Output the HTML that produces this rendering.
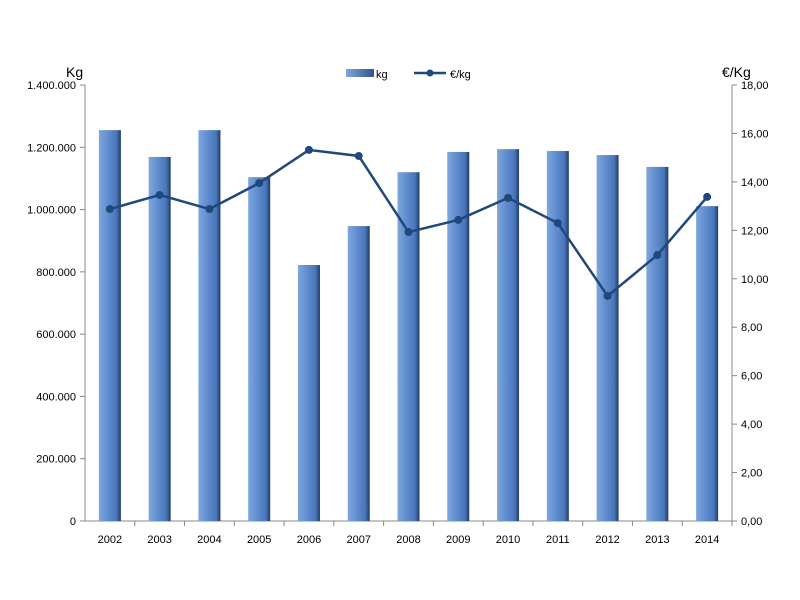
<!DOCTYPE html>
<html><head><meta charset="utf-8"><style>
body{margin:0;background:#fff;}
svg{display:block;font-family:"Liberation Sans",sans-serif;}
</style></head><body>
<svg id="chart" width="800" height="600">
<defs>
<linearGradient id="barg" x1="0" x2="1" y1="0" y2="0">
<stop offset="0" stop-color="#7fa6dc"/><stop offset="0.5" stop-color="#5a88cc"/><stop offset="0.8" stop-color="#4a76b8"/><stop offset="1" stop-color="#1f3b66"/>
</linearGradient>
<linearGradient id="legg" x1="0" x2="1"><stop offset="0" stop-color="#7fa6dc"/><stop offset="1" stop-color="#2f5590"/></linearGradient>
</defs>
<g id="axes"></g><g id="bars"></g><g id="line"></g>
<g>
<rect x="346" y="69" width="28" height="8" fill="url(#legg)"/>
<text x="376" y="78" font-size="11">kg</text>
<line x1="414" y1="73" x2="446" y2="73" stroke="#1f497d" stroke-width="2.5"/>
<circle cx="430" cy="73" r="3.5" fill="#1f497d"/>
<text x="450" y="78" font-size="11">€/kg</text>
</g>
<text x="66" y="77" font-size="14">Kg</text>
<text x="722" y="77" font-size="14">€/Kg</text>
</svg>
<script>
const years=["2002","2003","2004","2005","2006","2007","2008","2009","2010","2011","2012","2013","2014"];
const kg=[1255000,1169000,1255000,1104000,822000,947000,1120000,1185000,1194000,1188000,1175000,1137000,1011000];
const price=[12.88,13.46,12.88,13.95,15.32,15.07,11.93,12.43,13.34,12.30,9.29,10.98,13.38];
const leftTicks=["0","200.000","400.000","600.000","800.000","1.000.000","1.200.000","1.400.000"];
const rightTicks=["0,00","2,00","4,00","6,00","8,00","10,00","12,00","14,00","16,00","18,00"];
const NS="http://www.w3.org/2000/svg";
const X0=85,X1=732,Y0=521,Y1=85;
const yL=v=>Y0-(v/1400000)*(Y0-Y1);
const yR=v=>Y0-(v/18)*(Y0-Y1);
const step=(X1-X0)/years.length;
const xC=i=>X0+step*(i+0.5);
function mk(t,a,p){const e=document.createElementNS(NS,t);for(const k in a)e.setAttribute(k,a[k]);p.appendChild(e);return e;}
const ax=document.getElementById('axes'),bg=document.getElementById('bars'),lg=document.getElementById('line');
let e=mk('line',{x1:X0,y1:Y1,x2:X0,y2:Y0,stroke:'#888'},ax);


e=mk('line',{x1:X1,y1:Y1,x2:X1,y2:Y0,stroke:'#888'},ax);


e=mk('line',{x1:X0,y1:Y0,x2:X1,y2:Y0,stroke:'#888'},ax);


leftTicks.forEach((t,i)=>{const y=yL(i*200000);
mk('line',{x1:X0-5,y1:y,x2:X0,y2:y,stroke:'#888'},ax);
const tx=mk('text',{x:X0-9,y:y+4,'font-size':11,'text-anchor':'end'},ax);tx.textContent=t;

});
rightTicks.forEach((t,i)=>{const y=yR(i*2);
mk('line',{x1:X1,y1:y,x2:X1+5,y2:y,stroke:'#888'},ax);
const tx=mk('text',{x:X1+9,y:y+4,'font-size':11},ax);tx.textContent=t;

});
years.forEach((yr,i)=>{
mk('line',{x1:X0+step*(i+1),y1:Y0,x2:X0+step*(i+1),y2:Y0+5,stroke:'#888'},ax);
const tx=mk('text',{x:xC(i),y:Y0+22,'font-size':11,'text-anchor':'middle'},ax);tx.textContent=yr;


const b=mk('rect',{x:xC(i)-11,y:yL(kg[i]),width:22,height:Y0-yL(kg[i]),fill:'url(#barg)'},bg);

});
const pts=price.map((v,i)=>xC(i)+','+yR(v)).join(' ');
const pl=mk('polyline',{points:pts,fill:'none',stroke:'#1f497d','stroke-width':2.5},lg);


price.forEach((v,i)=>{const c=mk('circle',{cx:xC(i),cy:yR(v),r:4,fill:'#1f497d'},lg);

});
</script>
</body></html>
